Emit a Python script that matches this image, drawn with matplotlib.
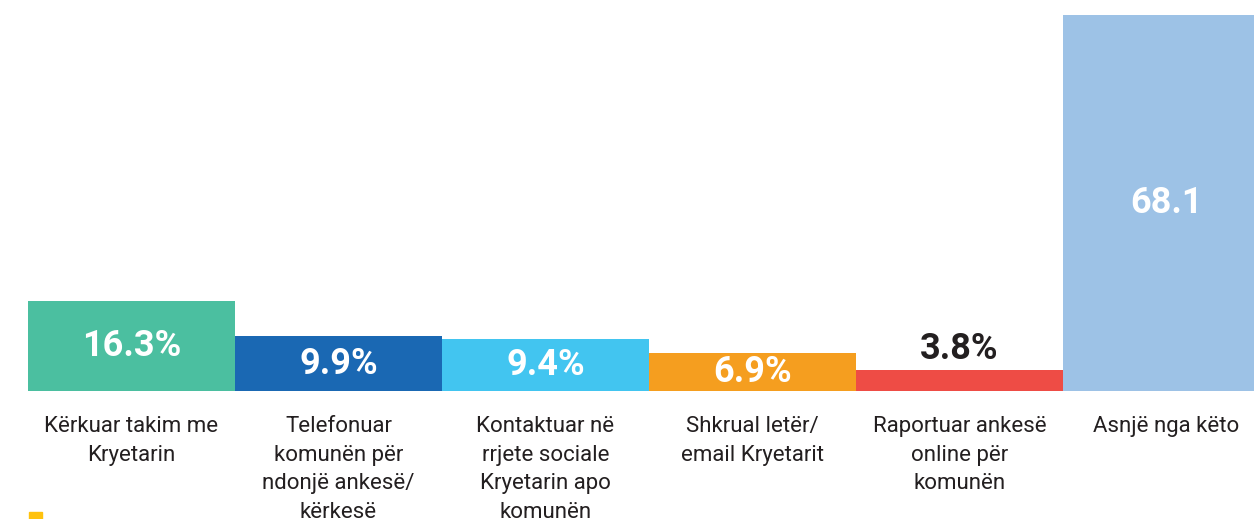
import matplotlib.pyplot as plt
from matplotlib.patches import Rectangle

# === data ===
categories = [
    "Kërkuar takim me\nKryetarin",
    "Telefonuar\nkomunën për\nndonjë ankesë/\nkërkesë",
    "Kontaktuar në\nrrjete sociale\nKryetarin apo\nkomunën",
    "Shkrual letër/\nemail Kryetarit",
    "Raportuar ankesë\nonline për\nkomunën",
    "Asnjë nga këto",
]
values = [16.3, 9.9, 9.4, 6.9, 3.8, 68.1]
value_labels = ["16.3%", "9.9%", "9.4%", "6.9%", "3.8%", "68.1"]
colors = ["#4BBFA0", "#1A68B3", "#42C5F0", "#F59E1F", "#EE4C45", "#9DC2E6"]

plt.rcParams["font.family"] = ["Roboto", "DejaVu Sans"]

W, H = 1254, 519
fig = plt.figure(figsize=(W / 100, H / 100), dpi=100)
ax = fig.add_axes([28 / W, (H - 391) / H, (W - 28) / W, 391 / H])

x = list(range(len(values)))
ax.bar(x, values, width=1.0, color=colors, align="center")
ax.set_xlim(-0.5, -0.5 + (W - 28) / 207)
ax.set_ylim(0, 70.8)

for xi, v, lab in zip(x, values, value_labels):
    if v < 5:
        ax.text(xi, v + 3.8, lab, ha="center", va="center", fontsize=26,
                fontweight="bold", color="#231F20")
    else:
        ax.text(xi, v / 2, lab, ha="center", va="center", fontsize=26,
                fontweight="bold", color="white")

ax.set_xticks(x)
ax.set_xticklabels(categories, fontsize=16, color="#231F20", linespacing=1.47)
ax.tick_params(axis="x", length=0, pad=18)
ax.set_yticks([])
for s in ax.spines.values():
    s.set_visible(False)

# small yellow marker bottom-left
fig.patches.append(Rectangle((29 / W, 0), 13 / W, 7 / H, transform=fig.transFigure,
                             color="#FFC20E", zorder=5))

fig.savefig("out.png", dpi=100)
